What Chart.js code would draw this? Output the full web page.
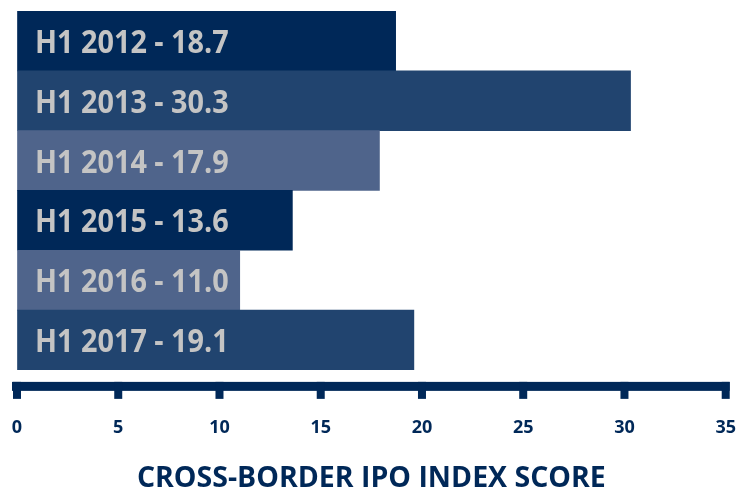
<!DOCTYPE html>
<html>
<head>
<meta charset="utf-8">
<script src="https://cdn.jsdelivr.net/npm/chart.js@4"></script>
<style>
  html, body { margin: 0; padding: 0; background: #ffffff; }
  #wrap { width: 738px; height: 489px; }
</style>
</head>
<body>
<div id="wrap"><canvas id="ipo-chart"></canvas></div>
<script>
const periods = ['H1 2012', 'H1 2013', 'H1 2014', 'H1 2015', 'H1 2016', 'H1 2017'];
// printed scores, and bar lengths as drawn in the picture (last bar is drawn longer than its label)
const scores = [18.7, 30.3, 17.9, 13.6, 11.0, 19.1];
const barLengths = [18.7, 30.3, 17.9, 13.6, 11.0, 19.6];
const xTicks = [0, 5, 10, 15, 20, 25, 30, 35];

const NAVY = '#002858';
const barColors = ['#002858', '#21446f', '#4f648b', '#002858', '#4f648b', '#21446f'];

// thick axis line with stubby ticks, drawn a little below the bars
const axisPlugin = {
  id: 'axisLine',
  afterDraw(chart) {
    const ctx = chart.ctx;
    const x = chart.scales.x;
    const yTop = chart.chartArea.bottom + 12;
    ctx.save();
    ctx.fillStyle = NAVY;
    ctx.fillRect(x.getPixelForValue(0) - 5, yTop, x.getPixelForValue(35) - x.getPixelForValue(0) + 9, 9);
    xTicks.forEach((v) => {
      const px = x.getPixelForValue(v);
      ctx.fillRect(px - 4, yTop, 8, 17);
    });
    ctx.restore();
  },
};

// "H1 2012 - 18.7" text inside each bar (squeezed a bit, the original face is narrow)
const barTextPlugin = {
  id: 'barText',
  afterDatasetsDraw(chart) {
    const ctx = chart.ctx;
    const meta = chart.getDatasetMeta(0);
    const squeeze = 0.9;
    ctx.save();
    ctx.fillStyle = '#c4c4c4';
    ctx.font = 'bold 32px "Open Sans", sans-serif';
    ctx.textBaseline = 'alphabetic';
    ctx.textAlign = 'left';
    ctx.scale(squeeze, 1);
    meta.data.forEach((bar, i) => {
      const txt = periods[i] + ' - ' + scores[i].toFixed(1);
      ctx.fillText(txt, (chart.chartArea.left + 18) / squeeze, bar.y + 12);
    });
    ctx.restore();
  },
};

new Chart(document.getElementById('ipo-chart'), {
  type: 'bar',
  data: {
    labels: periods,
    datasets: [{
      data: barLengths,
      backgroundColor: barColors,
      borderWidth: 0,
      barPercentage: 1,
      categoryPercentage: 1,
    }],
  },
  options: {
    indexAxis: 'y',
    responsive: true,
    maintainAspectRatio: false,
    animation: false,
    layout: { padding: { left: 17, right: 11, top: 11, bottom: 0 } },
    plugins: {
      legend: { display: false },
      tooltip: { enabled: false },
    },
    scales: {
      y: { display: false },
      x: {
        min: 0,
        max: 35,
        afterBuildTicks(scale) {
          scale.ticks = xTicks.map((v) => ({ value: v }));
        },
        grid: { display: true, drawOnChartArea: false, drawTicks: true, tickLength: 45, tickColor: 'rgba(0,0,0,0)' },
        border: { display: false },
        ticks: {
          padding: 2,
          color: NAVY,
          maxRotation: 0,
          font: { family: '"Open Sans", sans-serif', size: 18, weight: 'bold' },
        },
        title: {
          display: true,
          text: 'CROSS-BORDER IPO INDEX SCORE',
          color: NAVY,
          padding: { top: 28, bottom: 0 },
          font: { family: '"Open Sans", sans-serif', size: 28.5, weight: 'bold', lineHeight: 0.72 },
        },
      },
    },
  },
  plugins: [axisPlugin, barTextPlugin],
});
</script>
</body>
</html>
